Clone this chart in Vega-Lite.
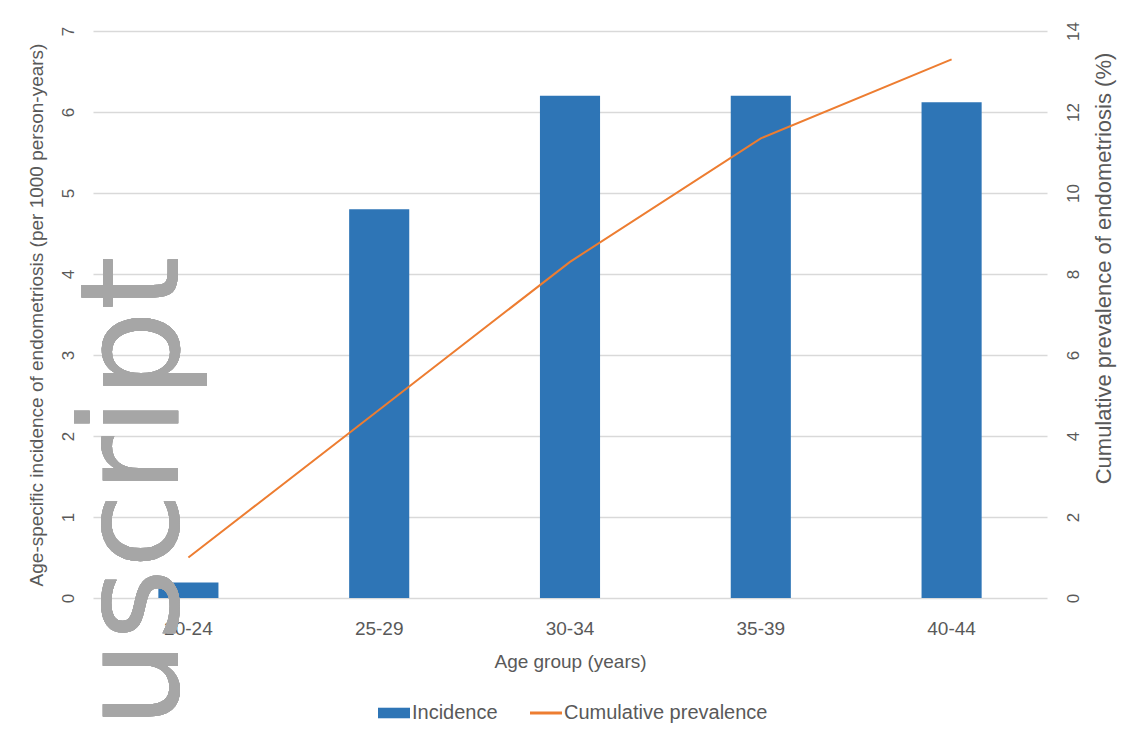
{
  "$schema": "https://vega.github.io/schema/vega-lite/v6.json",
  "autosize": {"type": "none"},
  "padding": {"left": 93, "top": 31, "right": 83, "bottom": 136},
  "width": 954,
  "height": 567,
  "background": "white",
  "config": {
    "font": "Liberation Sans",
    "view": {"stroke": null},
    "axis": {"labelColor": "#595959", "titleColor": "#595959", "labelFontSize": 19, "titleFontSize": 19, "titleFontWeight": "normal", "domain": false, "ticks": false, "tickSize": 0}
  },
  "data": {
    "values": [
      {"age": "20-24", "incidence": 0.19, "prevalence": 1.0},
      {"age": "25-29", "incidence": 4.8, "prevalence": 4.65},
      {"age": "30-34", "incidence": 6.2, "prevalence": 8.3},
      {"age": "35-39", "incidence": 6.2, "prevalence": 11.35},
      {"age": "40-44", "incidence": 6.12, "prevalence": 13.3}
    ]
  },
  "encoding": {
    "x": {
      "field": "age",
      "type": "nominal",
      "sort": null,
      "scale": {"paddingInner": 0.685, "paddingOuter": 0.3425},
      "axis": {"title": "Age group (years)", "labelAngle": 0, "labelPadding": 21, "titlePadding": 14, "grid": false}
    }
  },
  "layer": [
    {
      "mark": {"type": "bar", "color": "#2E75B6"},
      "encoding": {
        "y": {
          "field": "incidence",
          "type": "quantitative",
          "scale": {"domain": [0, 7], "nice": false},
          "axis": {"title": "Age-specific incidence of endometriosis (per 1000 person-years)", "values": [0, 1, 2, 3, 4, 5, 6, 7], "grid": true, "gridColor": "#D9D9D9", "gridWidth": 1.3, "labelFontSize": 17, "labelAngle": 270, "labelAlign": "center", "labelBaseline": "bottom", "labelPadding": 16, "titlePadding": 13}
        },
        "color": {
          "datum": "Incidence",
          "type": "nominal",
          "scale": {"domain": ["Incidence", "Cumulative prevalence"], "range": ["#2E75B6", "#ED7D31"]},
          "legend": {
            "orient": "none",
            "legendX": 291,
            "legendY": 672,
            "direction": "horizontal",
            "title": null,
            "labelFontSize": 20,
            "labelColor": "#595959",
            "labelLimit": 500,
            "symbolSize": 1024,
            "columnPadding": 26,
            "labelOffset": 8,
            "encode": {
              "symbols": {
                "update": {
                  "shape": {"signal": "datum.value === 'Incidence' ? 'M-1,-0.33H1V0.33H-1Z' : 'M-1,0H1'"},
                  "fill": {"signal": "datum.value === 'Incidence' ? '#2E75B6' : 'transparent'"},
                  "stroke": {"signal": "datum.value === 'Incidence' ? 'transparent' : '#ED7D31'"},
                  "strokeWidth": {"signal": "datum.value === 'Incidence' ? 0 : 3"}
                }
              }
            }
          }
        }
      }
    },
    {
      "mark": {"type": "line", "strokeWidth": 2},
      "encoding": {
        "y": {
          "field": "prevalence",
          "type": "quantitative",
          "scale": {"domain": [0, 14], "nice": false},
          "axis": {"orient": "right", "title": "Cumulative prevalence of endometriosis (%)", "values": [0, 2, 4, 6, 8, 10, 12, 14], "grid": false, "labelFontSize": 17, "labelAngle": 270, "labelAlign": "center", "labelBaseline": "top", "labelPadding": 18, "titleFontSize": 22, "titlePadding": 34, "titleAngle": 270, "titleAlign": "center", "titleY": 237}
        },
        "color": {"datum": "Cumulative prevalence", "type": "nominal"}
      }
    },
    {
      "mark": {"type": "text", "text": "uscript", "font": "DejaVu Sans", "fontSize": 138, "color": "#A6A6A6", "angle": 270, "align": "right", "baseline": "alphabetic", "dy": -10},
      "encoding": {
        "x": {"datum": "20-24", "type": "nominal"},
        "y": {"datum": 4.22, "type": "quantitative", "scale": {"domain": [0, 7], "nice": false}, "axis": null}
      }
    }
  ],
  "resolve": {"scale": {"y": "independent"}}
}
